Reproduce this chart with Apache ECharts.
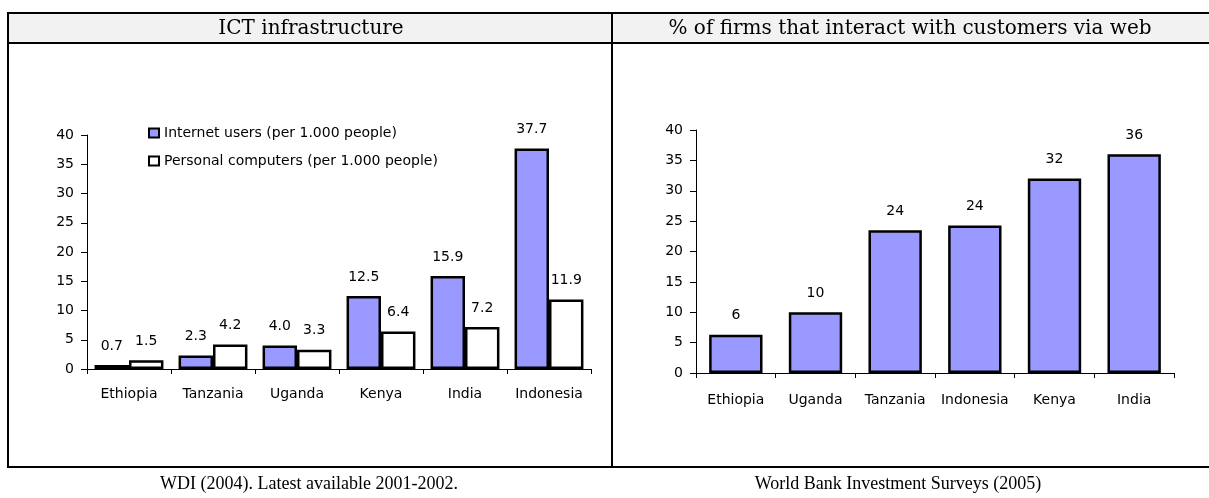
<!DOCTYPE html>
<html>
<head>
<meta charset="utf-8">
<style>html,body{margin:0;padding:0;background:#fff}#c{width:1209px;height:498px}</style>
<script src="https://cdn.jsdelivr.net/npm/echarts@6/dist/echarts.min.js"></script>
</head>
<body>
<div id="c"></div>
<script>
// ---- data ----
const leftTitle = "ICT infrastructure";
const rightTitle = "% of firms that interact with customers via web";
const leftCaption = "WDI (2004). Latest available 2001-2002.";
const rightCaption = "World Bank Investment Surveys (2005)";
const leftCategories = ["Ethiopia", "Tanzania", "Uganda", "Kenya", "India", "Indonesia"];
const internetUsers = [0.7, 2.3, 4.0, 12.5, 15.9, 37.7];
const personalComputers = [1.5, 4.2, 3.3, 6.4, 7.2, 11.9];
const internetName = "Internet users (per 1.000 people)";
const pcName = "Personal computers (per 1.000 people)";
const rightCategories = ["Ethiopia", "Uganda", "Tanzania", "Indonesia", "Kenya", "India"];
const webFirms = [6.3, 10, 23.5, 24.3, 32, 36];
const yTicks = [0, 5, 10, 15, 20, 25, 30, 35, 40];

const SANS = "'DejaVu Sans', sans-serif";
const SERIF = "'DejaVu Serif', serif";
const CAPSERIF = "'Liberation Serif', 'Times New Roman', serif";
const chart = echarts.init(document.getElementById('c'), null, {renderer: 'canvas'});

function yAxis(gi) {
  return {
    type: 'value', gridIndex: gi, min: yTicks[0], max: yTicks[yTicks.length - 1], interval: yTicks[1] - yTicks[0],
    axisLine: {show: true, lineStyle: {color: '#000', width: 1}},
    axisTick: {show: true, length: 6, lineStyle: {color: '#000'}},
    splitLine: {show: false},
    axisLabel: {color: '#000', fontFamily: SANS, fontSize: 14, margin: 13}
  };
}
function xAxis(gi, cats, margin) {
  return {
    type: 'category', gridIndex: gi, data: cats,
    axisLine: {show: true, lineStyle: {color: '#000', width: 1}},
    axisTick: {show: true, length: 5, alignWithLabel: false, lineStyle: {color: '#000'}},
    axisLabel: {color: '#000', fontFamily: SANS, fontSize: 14, margin: margin, interval: 0}
  };
}
const lbl = (fmt) => ({show: true, position: 'top', distance: 12, color: '#000', fontFamily: SANS, fontSize: 14, formatter: fmt});

chart.setOption({
  animation: false,
  graphic: [
    {type: 'rect', shape: {x: 8, y: 13, width: 1210, height: 30}, style: {fill: '#f2f2f2', stroke: '#000', lineWidth: 2}, z: 0},
    {type: 'rect', shape: {x: 8, y: 43, width: 1210, height: 424}, style: {fill: 'none', stroke: '#000', lineWidth: 2}, z: 0},
    {type: 'line', shape: {x1: 612, y1: 13, x2: 612, y2: 467}, style: {stroke: '#000', lineWidth: 2}, z: 0},
    {type: 'text', x: 311, y: 29, style: {text: leftTitle, fill: '#000', font: '20px ' + SERIF, align: 'center', verticalAlign: 'middle'}},
    {type: 'text', x: 910, y: 29, style: {text: rightTitle, fill: '#000', font: '20px ' + SERIF, align: 'center', verticalAlign: 'middle'}},
    {type: 'text', x: 309, y: 484, style: {text: leftCaption, fill: '#000', font: '18px ' + CAPSERIF, align: 'center', verticalAlign: 'middle'}},
    {type: 'text', x: 898, y: 484, style: {text: rightCaption, fill: '#000', font: '18px ' + CAPSERIF, align: 'center', verticalAlign: 'middle'}}
  ],
  legend: {
    left: 148, top: 126, padding: 0, orient: 'vertical', itemWidth: 10, itemHeight: 9, itemGap: 14,
    icon: 'rect', selectedMode: false,
    textStyle: {color: '#000', fontFamily: SANS, fontSize: 14, lineHeight: 14},
    data: [internetName, pcName]
  },
  grid: [
    {left: 87, top: 135, width: 504, height: 234},
    {left: 696, top: 130, width: 478, height: 243}
  ],
  xAxis: [xAxis(0, leftCategories, 18), xAxis(1, rightCategories, 20)],
  yAxis: [yAxis(0), yAxis(1)],
  series: [
    {name: internetName, type: 'bar', xAxisIndex: 0, yAxisIndex: 0, data: internetUsers, barGap: '0%', barCategoryGap: '18%',
     itemStyle: {color: '#9999ff', borderColor: '#000', borderWidth: 2.5},
     label: lbl(p => p.value.toFixed(1))},
    {name: pcName, type: 'bar', xAxisIndex: 0, yAxisIndex: 0, data: personalComputers, barGap: '0%', barCategoryGap: '18%',
     itemStyle: {color: '#ffffff', borderColor: '#000', borderWidth: 2.5},
     label: lbl(p => p.value.toFixed(1))},
    {name: 'web', type: 'bar', xAxisIndex: 1, yAxisIndex: 1, data: webFirms, barCategoryGap: '33%',
     itemStyle: {color: '#9999ff', borderColor: '#000', borderWidth: 2.5},
     label: lbl(p => Math.round(p.value).toString())}
  ]
});
</script>
</body>
</html>
